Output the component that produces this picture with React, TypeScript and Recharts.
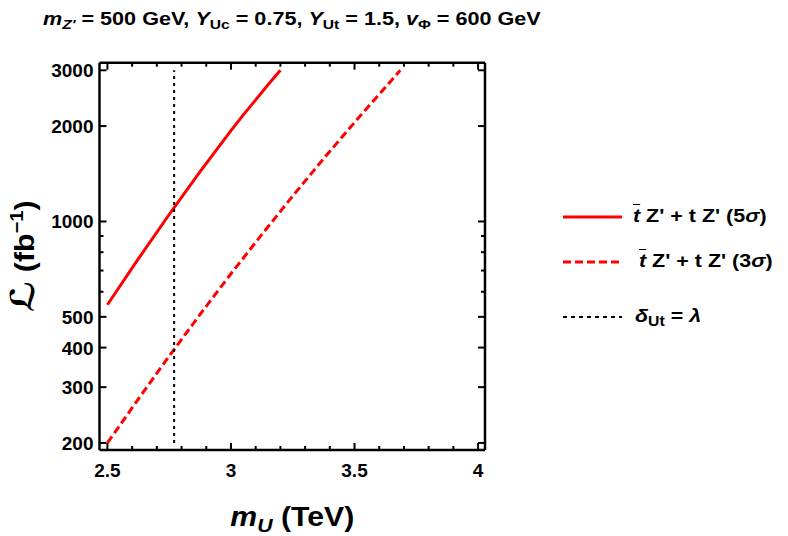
import { LineChart, Line, XAxis, YAxis, Legend } from "recharts";

// discovery reach: luminosity needed vs. vector-like quark mass
const mass5sigma = [2.5, 2.625, 2.75, 2.875, 3.0, 3.05, 3.1, 3.15, 3.2];
const lumi5sigma = [546, 762, 1052, 1436, 1936, 2170, 2420, 2700, 3000];

const mass3sigma = [2.5, 2.625, 2.75, 2.875, 3.0, 3.125, 3.25, 3.375, 3.5, 3.625, 3.685];
const lumi3sigma = [200, 275, 376, 509, 684, 910, 1203, 1579, 2054, 2650, 3000];

// delta_Ut = lambda boundary
const deltaMass = [2.77, 2.77];
const deltaLumi = [200, 3000];

const xMajorTicks = [2.5, 3, 3.5, 4];
const xMinorTicks = [2.6, 2.7, 2.8, 2.9, 3.1, 3.2, 3.3, 3.4, 3.6, 3.7, 3.8, 3.9];
const yMajorTicks = [200, 300, 400, 500, 1000, 2000, 3000];
const yMinorTicks = [600, 700, 800, 900];

const xDomain = [2.468, 4.028];
const yDomain = [190, 3170];

const toRows = (xs: number[], ys: number[]) => xs.map((m, i) => ({ m, lumi: ys[i] }));

const data5 = toRows(mass5sigma, lumi5sigma);
const data3 = toRows(mass3sigma, lumi3sigma);
const dataDelta = toRows(deltaMass, deltaLumi);

const RED = "#ff0000";
const FONT = "'Liberation Sans', Arial, 'DejaVu Sans', sans-serif";

const xTicks = [...xMajorTicks, ...xMinorTicks].sort((a, b) => a - b);
const yTicks = [...yMajorTicks, ...yMinorTicks].sort((a, b) => a - b);

type Side = "bottom" | "top" | "left" | "right";

// inward-pointing frame ticks, labels only on bottom/left majors
function FrameTick(props: any) {
  const { x, y, payload, side } = props as { x: number; y: number; payload: { value: number }; side: Side };
  const v = payload.value;
  const horizontal = side === "bottom" || side === "top";
  const major = horizontal ? xMajorTicks.includes(v) : yMajorTicks.includes(v);
  const len = major ? 7 : 4;
  let line;
  if (side === "bottom") line = <line x1={x} y1={y} x2={x} y2={y - len} />;
  else if (side === "top") line = <line x1={x} y1={y} x2={x} y2={y + len} />;
  else if (side === "left") line = <line x1={x} y1={y} x2={x + len} y2={y} />;
  else line = <line x1={x} y1={y} x2={x - len} y2={y} />;

  let label = null;
  if (major && side === "bottom") {
    label = (
      <text x={x} y={y + 27} textAnchor="middle" fontSize={19} fontWeight="bold" fontFamily={FONT} fill="#000">
        {String(v)}
      </text>
    );
  } else if (major && side === "left") {
    label = (
      <text x={x - 6} y={y + 7} textAnchor="end" fontSize={19} fontWeight="bold" fontFamily={FONT} fill="#000">
        {String(v)}
      </text>
    );
  }
  return (
    <g>
      <g stroke="#000" strokeWidth={2}>{line}</g>
      {label}
    </g>
  );
}

function XTitle({ viewBox }: any) {
  const cx = viewBox.x + viewBox.width / 2;
  return (
    <text
      transform={`translate(${cx} ${viewBox.y + 76}) scale(1.12 1)`}
      textAnchor="middle"
      fontSize={27}
      fontWeight="bold"
      fontFamily={FONT}
      fill="#000"
    >
      <tspan fontStyle="italic">m</tspan>
      <tspan fontStyle="italic" fontSize={19} dy={6}>U</tspan>
      <tspan dy={-6}> (TeV)</tspan>
    </text>
  );
}

function YTitle({ viewBox }: any) {
  const cx = 34;
  const cy = viewBox.y + viewBox.height / 2;
  return (
    <text
      transform={`translate(${cx} ${cy}) rotate(-90) scale(1.12 1)`}
      textAnchor="middle"
      fontSize={27}
      fontWeight="bold"
      fontFamily={FONT}
      fill="#000"
    >
      <tspan fontSize={33} fontStyle="italic">ℒ</tspan>
      <tspan> (fb</tspan>
      <tspan fontSize={18} dy={-11}>−1</tspan>
      <tspan dy={11}>)</tspan>
    </text>
  );
}

const legendItems = [
  { key: "s5", label: "5", dash: undefined as string | undefined, color: RED, top: 17, indent: 78 },
  { key: "s3", label: "3", dash: "8 4", color: RED, top: 62, indent: 84 },
];

function LegendBox() {
  const textStyle: React.CSSProperties = {
    position: "absolute",
    fontFamily: FONT,
    fontWeight: "bold",
    fontSize: 19,
    lineHeight: "22px",
    whiteSpace: "nowrap",
    color: "#000",
    transform: "scaleX(1.13)",
    transformOrigin: "left center",
  };
  return (
    <div style={{ position: "relative", width: 233, height: 140 }}>
      {legendItems.map((it) => (
        <div key={it.key}>
          <svg width={60} height={6} style={{ position: "absolute", left: 8, top: it.top - 3 }}>
            <line x1={0} y1={3} x2={59} y2={3} stroke={it.color} strokeWidth={3} strokeDasharray={it.dash} />
          </svg>
          <div style={{ ...textStyle, left: it.indent, top: it.top - 12 }}>
            <span style={{ fontStyle: "italic", textDecoration: "overline" }}>t</span> Z' + t Z' ({it.label}
            <span style={{ fontStyle: "italic" }}>σ</span>)
          </div>
        </div>
      ))}
      <svg width={60} height={6} style={{ position: "absolute", left: 8, top: 117 - 3 }}>
        <line x1={0} y1={3} x2={59} y2={3} stroke="#000" strokeWidth={2} strokeDasharray="4 4" />
      </svg>
      <div style={{ ...textStyle, left: 80, top: 117 - 12 }}>
        <span style={{ fontStyle: "italic" }}>δ</span>
        <sub style={{ fontSize: 14, verticalAlign: "-4px", lineHeight: 0 }}>Ut</sub> ={" "}
        <span style={{ fontStyle: "italic" }}>λ</span>
      </div>
    </div>
  );
}

export default function App() {
  const subStyle: React.CSSProperties = { fontSize: 13, verticalAlign: "-4px", lineHeight: 0 };
  return (
    <div style={{ position: "absolute", left: 0, top: 0, width: 788, height: 536, background: "#fff" }}>
      <div
        style={{
          position: "absolute",
          left: 43,
          top: 8,
          fontFamily: FONT,
          fontWeight: "bold",
          fontSize: 18,
          lineHeight: "22px",
          whiteSpace: "nowrap",
          color: "#000",
          transform: "scaleX(1.2)",
          transformOrigin: "left center",
        }}
      >
        <i>m</i>
        <sub style={subStyle}><i>Z'</i></sub> = 500 GeV, <i>Y</i>
        <sub style={subStyle}>Uc</sub> = 0.75, <i>Y</i>
        <sub style={subStyle}>Ut</sub> = 1.5, <i>v</i>
        <sub style={subStyle}>Φ</sub> = 600 GeV
      </div>
      <LineChart width={788} height={536} margin={{ top: 0, right: 0, bottom: 0, left: 0 }}>
        <XAxis
          xAxisId="b"
          dataKey="m"
          type="number"
          orientation="bottom"
          domain={xDomain}
          allowDataOverflow
          ticks={xTicks}
          interval={0}
          height={86}
          tickSize={0}
          tickMargin={0}
          axisLine={{ stroke: "#000", strokeWidth: 2.5 }}
          tick={(p: any) => <FrameTick {...p} side="bottom" />}
          label={{ content: (p: any) => <XTitle {...p} /> }}
        />
        <XAxis
          xAxisId="t"
          dataKey="m"
          type="number"
          orientation="top"
          domain={xDomain}
          allowDataOverflow
          ticks={xTicks}
          interval={0}
          height={62.7}
          tickSize={0}
          tickMargin={0}
          axisLine={{ stroke: "#000", strokeWidth: 2.5 }}
          tick={(p: any) => <FrameTick {...p} side="top" />}
        />
        <YAxis
          yAxisId="l"
          type="number"
          scale="log"
          orientation="left"
          domain={yDomain}
          allowDataOverflow
          ticks={yTicks}
          interval={0}
          width={99.5}
          tickSize={0}
          tickMargin={0}
          axisLine={{ stroke: "#000", strokeWidth: 2.5 }}
          tick={(p: any) => <FrameTick {...p} side="left" />}
          label={{ content: (p: any) => <YTitle {...p} /> }}
        />
        <YAxis
          yAxisId="r"
          type="number"
          scale="log"
          orientation="right"
          domain={yDomain}
          allowDataOverflow
          ticks={yTicks}
          interval={0}
          width={303}
          tickSize={0}
          tickMargin={0}
          axisLine={{ stroke: "#000", strokeWidth: 2.5 }}
          tick={(p: any) => <FrameTick {...p} side="right" />}
        />
        <Legend
          layout="horizontal"
          verticalAlign="middle"
          align="center"
          wrapperStyle={{ left: 555, top: 200, width: 233, height: 140 }}
          content={() => <LegendBox />}
        />
        <Line
          xAxisId="b"
          yAxisId="l"
          data={data5}
          dataKey="lumi"
          name="5sigma"
          stroke={RED}
          strokeWidth={3}
          dot={false}
          isAnimationActive={false}
        />
        <Line
          xAxisId="b"
          yAxisId="l"
          data={data3}
          dataKey="lumi"
          name="3sigma"
          stroke={RED}
          strokeWidth={3}
          strokeDasharray="8 4"
          dot={false}
          isAnimationActive={false}
        />
        <Line
          xAxisId="b"
          yAxisId="l"
          data={dataDelta}
          dataKey="lumi"
          name="delta"
          stroke="#000"
          strokeWidth={2}
          strokeDasharray="3 4"
          dot={false}
          isAnimationActive={false}
        />
      </LineChart>
    </div>
  );
}
